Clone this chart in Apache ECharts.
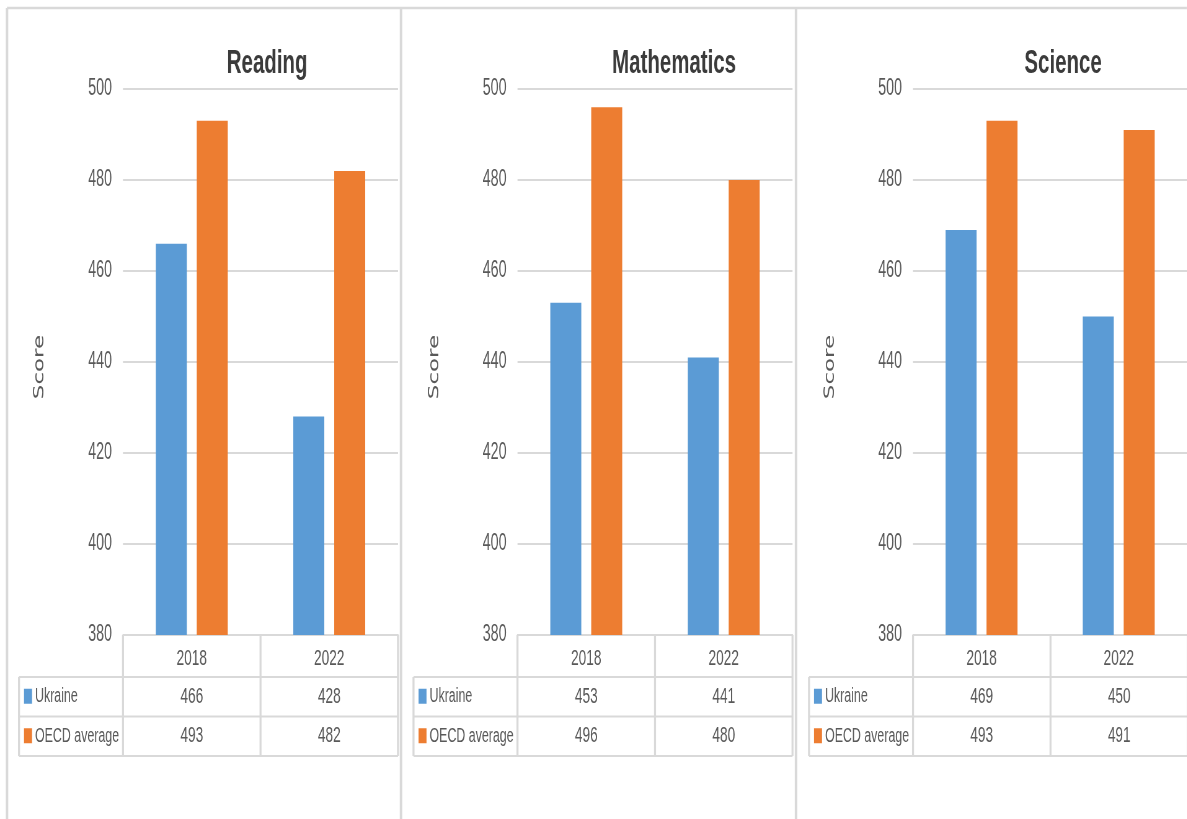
<!DOCTYPE html>
<html>
<head>
<meta charset="utf-8">
<script src="https://cdn.jsdelivr.net/npm/echarts@6/dist/echarts.min.js"></script>
<style>
html,body{margin:0;padding:0;background:#fff;overflow:hidden;}
#wrap{width:1187px;height:819px;overflow:hidden;position:relative;}
#chart{height:819px;transform-origin:0 0;position:absolute;left:0;top:0;}
</style>
</head>
<body>
<div id="wrap"><div id="chart"></div></div>
<script>
// ---- data ----
const categories = ['2018', '2022'];
const subjects = ['Reading', 'Mathematics', 'Science'];
const seriesNames = ['Ukraine', 'OECD average'];
const readingUkraine = [466, 428];
const readingOECD = [493, 482];
const mathUkraine = [453, 441];
const mathOECD = [496, 480];
const scienceUkraine = [469, 450];
const scienceOECD = [493, 491];
const yMin = 380, yMax = 500, yStep = 20;
const yAxisTitle = 'Score';

const panelData = [
  [readingUkraine, readingOECD],
  [mathUkraine, mathOECD],
  [scienceUkraine, scienceOECD]
];

// ---- layout / style ----
// The reference is a horizontally condensed rendering; emulate by drawing wider and squeezing.
const SX = 0.62;
const fx = v => v / SX;               // reference px -> logical px (horizontal)
const el = document.getElementById('chart');
el.style.width = fx(1187) + 'px';
el.style.transform = 'scaleX(' + SX + ')';

const colors = ['#5B9BD5', '#ED7D31'];
const font = '"Liberation Sans", Arial, sans-serif';
const txtColor = '#595959';
const lineColor = '#d9d9d9';
const offsets = [0, 394.5, 790];
const titleCenters = [264, 671, 1060];
const GL = 123, GW = 275, GT = 89, GB = 635;
const headerH = 42, rowH = 39.5, labelW = 104;

const chart = echarts.init(el);

const grids = [], xAxes = [], yAxes = [], series = [], titles = [], graphics = [];

function hLine(x1, x2, y, w) {
  graphics.push({type: 'line', silent: true, shape: {x1: fx(x1), y1: y, x2: fx(x2), y2: y},
    style: {stroke: lineColor, lineWidth: w || 2}});
}
function vLine(x, y1, y2, w) {
  graphics.push({type: 'line', silent: true, shape: {x1: fx(x), y1: y1, x2: fx(x), y2: y2},
    style: {stroke: lineColor, lineWidth: fx(w || 2)}});
}

// outer panel borders
hLine(7, 1187, 8, 2.5);
vLine(7, 8, 819, 2.5);
vLine(401, 8, 819, 2.5);
vLine(796, 8, 819, 2.5);

subjects.forEach(function (subj, i) {
  const L = GL + offsets[i];
  grids.push({left: fx(L), top: GT, width: fx(GW), height: GB - GT});
  xAxes.push({
    type: 'category', gridIndex: i, data: categories,
    axisLine: {show: true, lineStyle: {color: lineColor, width: 2}},
    axisTick: {show: false},
    axisLabel: {show: true, margin: 13, color: txtColor, fontSize: 22, fontFamily: font}
  });
  yAxes.push({
    type: 'value', gridIndex: i, min: yMin, max: yMax, interval: yStep,
    axisLine: {show: false}, axisTick: {show: false},
    splitLine: {show: true, lineStyle: {color: lineColor, width: 2}},
    axisLabel: {color: txtColor, fontSize: 23, fontFamily: font, margin: fx(11)}
  });
  seriesNames.forEach(function (nm, s) {
    series.push({
      name: nm, type: 'bar', xAxisIndex: i, yAxisIndex: i,
      data: panelData[i][s], barWidth: fx(31), barGap: '32%',
      itemStyle: {color: colors[s]}
    });
  });
  titles.push({
    text: subj, left: fx(titleCenters[i]), top: 42, textAlign: 'center',
    textStyle: {fontFamily: font, fontWeight: 'bold', fontSize: 33, color: '#3b3b3b'}
  });

  // y axis title
  graphics.push({
    type: 'text', silent: true, x: fx(40 + offsets[i]), y: 367, rotation: Math.PI / 2,
    style: {text: yAxisTitle, fill: txtColor, font: '23px "DejaVu Sans", sans-serif',
      align: 'center', verticalAlign: 'middle'}
  });

  // data table
  const R = L + GW, M = L + GW / 2, T0 = GB, T1 = GB + headerH, T2 = T1 + rowH, T3 = T2 + rowH;
  vLine(L, T0, T1); vLine(M, T0, T1); vLine(R, T0, T1);
  hLine(L - labelW, R, T1); hLine(L - labelW, R, T2); hLine(L - labelW, R, T3);
  vLine(L - labelW, T1, T3); vLine(L, T1, T3); vLine(M, T1, T3); vLine(R, T1, T3);
  seriesNames.forEach(function (nm, s) {
    const yc = T1 + rowH * s + rowH / 2;
    graphics.push({type: 'rect', silent: true,
      shape: {x: fx(L - labelW + 5), y: yc - 8, width: fx(8), height: 15}, style: {fill: colors[s]}});
    graphics.push({type: 'text', silent: true, x: fx(L - labelW + 16), y: yc,
      style: {text: nm, fill: txtColor, font: '20px ' + font, align: 'left', verticalAlign: 'middle'}});
    categories.forEach(function (c, k) {
      graphics.push({type: 'text', silent: true, x: fx(L + GW / 4 + k * GW / 2), y: yc,
        style: {text: String(panelData[i][s][k]), fill: txtColor, font: '22px ' + font,
          align: 'center', verticalAlign: 'middle'}});
    });
  });
});

chart.setOption({
  animation: false,
  backgroundColor: '#ffffff',
  title: titles,
  grid: grids,
  xAxis: xAxes,
  yAxis: yAxes,
  series: series,
  graphic: graphics
});
</script>
</body>
</html>
